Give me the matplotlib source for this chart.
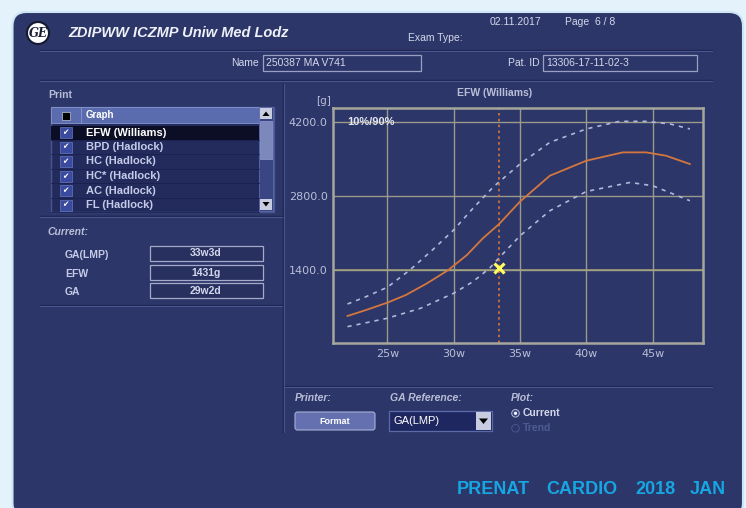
import matplotlib.pyplot as plt
from matplotlib.patches import FancyBboxPatch, Rectangle, Circle, Polygon

# ---- data read from the EFW (Williams) chart ----
ga_50 = [22.0, 23.4, 25.0, 26.4, 28.0, 29.6, 31.0, 32.2, 33.4, 35.0, 37.25, 40.0, 42.75, 44.5, 46.0, 47.8]
efw_50 = [533, 646, 784, 929, 1150, 1400, 1683, 1997, 2261, 2690, 3178, 3461, 3618, 3618, 3555, 3398]

ga_90 = [22.0, 23.4, 25.0, 26.7, 28.4, 30.0, 31.45, 33.0, 35.0, 37.25, 40.0, 42.5, 44.5, 46.3, 47.8]
efw_90 = [759, 897, 1074, 1400, 1777, 2154, 2562, 2969, 3399, 3807, 4060, 4203, 4203, 4154, 4060]

ga_10 = [22.0, 25.0, 27.5, 30.0, 31.45, 32.7, 33.5, 35.0, 37.25, 40.0, 43.3, 45.0, 47.8]
efw_10 = [332, 490, 678, 961, 1180, 1432, 1650, 2044, 2517, 2881, 3051, 2989, 2706]

current_ga = 33 + 3 / 7.0   # 33w3d
current_efw = 1431

x_ticks = [25, 30, 35, 40, 45]
x_labels = ['25w', '30w', '35w', '40w', '45w']
y_ticks = [1400, 2800, 4200]
y_labels = ['1400.0', '2800.0', '4200.0']

graph_list = ['EFW (Williams)', 'BPD (Hadlock)', 'HC (Hadlock)', 'HC* (Hadlock)',
              'AC (Hadlock)', 'FL (Hadlock)']
current_names = ['GA(LMP)', 'EFW', 'GA']
current_values = ['33w3d', '1431g', '29w2d']
footer_words = ['PRENAT', 'CARDIO', '2018', 'JAN']

# ---- colours ----
NAVY = '#2d3668'
OUTER = '#e4f2fb'
TXT = '#d4d8ec'
DIM = '#b9bed8'
GRID = '#9a9a8c'
SANS = ['Liberation Sans', 'DejaVu Sans']
NARROW = ['Liberation Sans Narrow', 'Liberation Sans', 'DejaVu Sans']

fig = plt.figure(figsize=(7.46, 5.08), dpi=100, facecolor=OUTER)

# background / UI layer in pixel coordinates
ui = fig.add_axes([0, 0, 1, 1])
ui.set_xlim(0, 746)
ui.set_ylim(508, 0)
ui.axis('off')

ui.add_patch(FancyBboxPatch((12.5, 12), 730.5, 505, boxstyle='round,pad=0,rounding_size=14',
                            fc=NAVY, ec='#cde6f5', lw=1.5))


def sep(x0, x1, y):
    ui.plot([x0, x1], [y, y], color='#1f2650', lw=1)
    ui.plot([x0, x1], [y + 1.2, y + 1.2], color='#4a5490', lw=0.8)


def box(x0, y0, x1, y1, fc='#262e5e', ec='#9aa0c4'):
    ui.add_patch(Rectangle((x0, y0), x1 - x0, y1 - y0, fc=fc, ec=ec, lw=0.9))


# header
ui.add_patch(Circle((38, 33), 11, fc='white', ec='#151a30', lw=1.5))
ui.text(38, 33.5, 'GE', ha='center', va='center', fontsize=8.5, style='italic',
        fontweight='bold', family='DejaVu Serif', color='#1a1e34')
ui.text(68, 33, 'ZDIPWW ICZMP Uniw Med Lodz', ha='left', va='center', fontsize=10.5,
        fontweight='bold', style='italic', family=SANS, color='#eef0f8')
ui.text(490, 22, '02.11.2017', ha='left', va='center', fontsize=7.5, family=NARROW, color=TXT)
ui.text(565, 22, 'Page  6 / 8', ha='left', va='center', fontsize=7.5, family=NARROW, color=TXT)
ui.text(408, 38, 'Exam Type:', ha='left', va='center', fontsize=7.5, family=NARROW, color=TXT)
sep(40, 712, 50)

ui.text(259, 63, 'Name', ha='right', va='center', fontsize=7.5, family=NARROW, color=TXT)
box(263, 55, 421, 71, fc=NAVY)
ui.text(266, 63, '250387 MA V741', ha='left', va='center', fontsize=7.5, family=NARROW, color=TXT)
ui.text(540, 63, 'Pat. ID', ha='right', va='center', fontsize=7.5, family=NARROW, color=TXT)
box(543, 55, 697, 71, fc=NAVY)
ui.text(546, 63, '13306-17-11-02-3', ha='left', va='center', fontsize=7.5, family=NARROW, color=TXT)
sep(40, 712, 80)

# vertical divider
ui.plot([283, 283], [84, 432], color='#1f2650', lw=1)
ui.plot([284.2, 284.2], [84, 432], color='#4a5490', lw=0.8)

# print list
ui.text(48, 95, 'Print', ha='left', va='center', fontsize=7.5, fontweight='bold', family=SANS, color=DIM)
ui.add_patch(Rectangle((50.5, 106.5), 223, 105, fc='#232b5c', ec='#4a5590', lw=1))
ui.add_patch(Rectangle((51, 107), 208, 16, fc='#5b6cae', ec='#8a98d0', lw=0.6))
ui.plot([80.5, 80.5], [107, 123], color='#8a98d0', lw=0.6)
ui.add_patch(Rectangle((61.5, 111.5), 8, 8, fc='black', ec='#c0c8e8', lw=0.5))
ui.text(86, 115, 'Graph', ha='left', va='center', fontsize=7, fontweight='bold', family=SANS, color='white')
row_y = [132.5, 147, 161.5, 176, 190.5, 205]
for i, (name, yy) in enumerate(zip(graph_list, row_y)):
    if i == 0:
        ui.add_patch(Rectangle((51, yy - 7), 208, 14, fc='#0c0e26', ec='none'))
    ui.plot([51, 259], [yy + 7.2, yy + 7.2], color='#1a2150', lw=0.6)
    ui.add_patch(Rectangle((59.5, yy - 5.5), 12, 11, fc='#3a4a9e', ec='#6878c0', lw=0.5))
    ui.text(65.5, yy, '\u2714', ha='center', va='center', fontsize=5.5, family='DejaVu Sans', color='white')
    ui.text(86, yy, name, ha='left', va='center', fontsize=8, fontweight='bold', family=SANS,
            color='white' if i == 0 else '#c4cae8')
# scrollbar
ui.add_patch(Rectangle((259, 107), 14, 104, fc='#3a4584', ec='#6a78b8', lw=0.5))
ui.add_patch(Rectangle((260, 108), 12, 11, fc='#c8cce0', ec='none'))
ui.add_patch(Polygon([[262.5, 116], [269.5, 116], [266, 111.5]], fc='black'))
ui.add_patch(Rectangle((260, 121), 12, 38, fc='#7c88bc', ec='#a0aad8', lw=0.4))
ui.add_patch(Rectangle((260, 199), 12, 11, fc='#c8cce0', ec='none'))
ui.add_patch(Polygon([[262.5, 202], [269.5, 202], [266, 206.5]], fc='black'))

# current values
sep(40, 282, 216)
ui.text(48, 232, 'Current:', ha='left', va='center', fontsize=7.5, fontweight='bold', style='italic',
        family=SANS, color=DIM)
cur_y = [253.5, 272.5, 290.5]
for name, val, yy in zip(current_names, current_values, cur_y):
    ui.text(65, yy + 1.5, name, ha='left', va='center', fontsize=7.5, fontweight='bold', family=SANS, color='#c4cae8')
    box(150, yy - 7.5, 263, yy + 7.5, fc='#27305f', ec='#a4aac8')
    ui.text(206, yy, val, ha='center', va='center', fontsize=7.5, fontweight='bold', family=NARROW, color=TXT)
sep(40, 282, 305)

# bottom controls
sep(285, 712, 386)
ui.text(295, 398, 'Printer:', ha='left', va='center', fontsize=7.5, fontweight='bold', style='italic',
        family=SANS, color=DIM)
ui.add_patch(FancyBboxPatch((295, 412), 80, 18, boxstyle='round,pad=0,rounding_size=2.5',
                            fc='#6470b0', ec='#a8b0d8', lw=0.8))
ui.text(335, 421, 'Format', ha='center', va='center', fontsize=6.5, fontweight='bold', family=SANS, color='white')
ui.text(390, 398, 'GA Reference:', ha='left', va='center', fontsize=7.5, fontweight='bold', style='italic',
        family=SANS, color=DIM)
box(389, 411, 492, 431, fc='#1e2760', ec='#5d6aa8')
ui.text(393, 421, 'GA(LMP)', ha='left', va='center', fontsize=8, family=SANS, color='white')
ui.add_patch(Rectangle((476, 412), 15, 18, fc='#c8cce0', ec='none'))
ui.add_patch(Polygon([[479, 418.5], [488, 418.5], [483.5, 424]], fc='black'))
ui.text(511, 398, 'Plot:', ha='left', va='center', fontsize=7.5, fontweight='bold', style='italic',
        family=SANS, color=DIM)
ui.add_patch(Circle((515.5, 413.3), 3.8, fc='#3c4684', ec='#c8cce0', lw=0.6))
ui.add_patch(Circle((515.5, 413.3), 1.6, fc='white', ec='none'))
ui.text(523, 413, 'Current', ha='left', va='center', fontsize=7.5, fontweight='bold', family=SANS, color=TXT)
ui.add_patch(Circle((515.5, 428.3), 3.8, fc='none', ec='#4f5a94', lw=0.6))
ui.text(523, 428, 'Trend', ha='left', va='center', fontsize=7.5, fontweight='bold', family=SANS, color='#4f5a94')

# footer, widely spaced words
for word, xw in zip(footer_words, [456.5, 546.5, 635, 690]):
    ui.text(xw, 490, word, ha='left', va='center', fontsize=13, fontweight='bold',
            family=SANS, color='#16a6e2')

# chart titles
ui.text(495, 93, 'EFW (Williams)', ha='center', va='center', fontsize=7.5, fontweight='bold',
        family=SANS, color=DIM)
ui.text(324, 101, '[g]', ha='center', va='center', fontsize=7.5, family='DejaVu Sans', color=DIM)

# ---- growth chart ----
ax = fig.add_axes([333.3 / 746, 1 - 343.3 / 508, (703 - 333.3) / 746, (343.3 - 107.5) / 508])
ax.set_facecolor(NAVY)
ax.set_xlim(20.93, 48.79)
ax.set_ylim(18, 4464)
for s in ax.spines.values():
    s.set_color('#a6a69c')
    s.set_linewidth(1.8)
ax.set_xticks(x_ticks)
ax.set_xticklabels(x_labels)
ax.set_yticks(y_ticks)
ax.set_yticklabels(y_labels)
ax.tick_params(length=0, colors=DIM, labelsize=8, pad=4)
for lab in ax.get_xticklabels() + ax.get_yticklabels():
    lab.set_family('DejaVu Sans')
ax.grid(True, color=GRID, lw=1.0)
ax.axhline(1400, color='#a4a47c', lw=1.1)

ax.plot(ga_90, efw_90, color='#b0b8dc', lw=1.2, ls=(0, (2.5, 3)))
ax.plot(ga_10, efw_10, color='#b0b8dc', lw=1.2, ls=(0, (2.5, 3)))
ax.plot(ga_50, efw_50, color='#d4773e', lw=1.3)
ax.axvline(current_ga, color='#d8763a', lw=1.2, ls=(0, (1.5, 2)))
ax.plot([current_ga], [current_efw], marker='x', ms=7, mew=2.2, color='#ffff60', ls='none')
ax.text(22.0, 4200, '10%/90%', ha='left', va='center', fontsize=8, fontweight='bold',
        family=SANS, color='#e4e6f0')

fig.savefig('out.png', dpi=100, facecolor=OUTER)
